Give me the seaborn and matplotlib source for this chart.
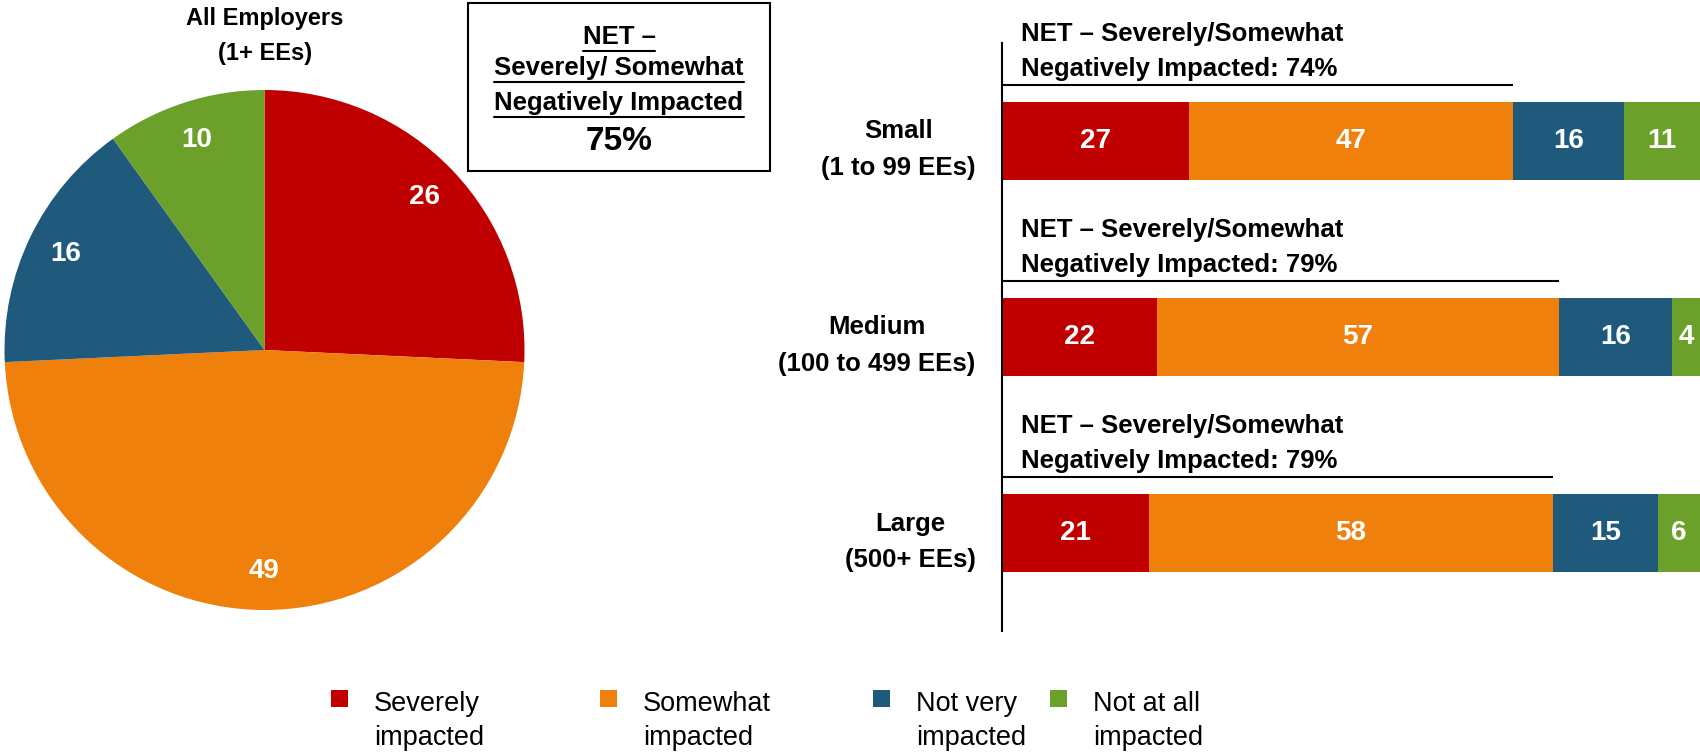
import numpy as np
import pandas as pd
import matplotlib
matplotlib.use('Agg')
import matplotlib.pyplot as plt
from matplotlib.patches import Rectangle
from matplotlib.lines import Line2D
import seaborn as sns

sns.set_theme(style='white')
plt.rcParams['font.family'] = ['Liberation Sans', 'DejaVu Sans']
plt.rcParams['text.color'] = 'black'
plt.rcParams['ytick.color'] = 'black'

# data
segments = ['Severely\nimpacted', 'Somewhat\nimpacted', 'Not very\nimpacted', 'Not at all\nimpacted']
colors = ['#C00000', '#F0800C', '#1F5A7C', '#6BA12A']
pie_values = [26, 49, 16, 10]
pie_net = 75
sizes = ['Small\n(1 to 99 EEs)', 'Medium\n(100 to 499 EEs)', 'Large\n(500+ EEs)']
severely = [27, 22, 21]
somewhat = [47, 57, 58]
not_very = [16, 16, 15]
not_at_all = [11, 4, 6]
net_values = [74, 79, 79]

W, H = 1700, 754


def fx(x):
    return x / W


def fy(y):
    return 1 - y / H


fig = plt.figure(figsize=(17, 7.54), dpi=100)

# pie: all employers
ax_pie = fig.add_axes([fx(4.5), fy(610), 520 / W, 520 / H])
wedges, _ = ax_pie.pie(pie_values, colors=colors, startangle=90, counterclock=False,
                       radius=1, wedgeprops=dict(linewidth=0))
for w, v in zip(wedges, pie_values):
    ang = np.deg2rad((w.theta1 + w.theta2) / 2)
    ax_pie.text(0.85 * np.cos(ang), 0.85 * np.sin(ang), str(v), ha='center', va='center',
                color='white', fontsize=20, fontweight='bold')
ax_pie.set_xlim(-1, 1)
ax_pie.set_ylim(-1, 1)
ax_pie.set_aspect('equal')
ax_pie.axis('off')

fig.text(fx(265), fy(36), 'All Employers\n(1+ EEs)', ha='center', va='center',
         fontsize=17, fontweight='bold', linespacing=1.65)

# NET box
fig.add_artist(Rectangle((fx(468), fy(171)), 302 / W, 168 / H, fill=False,
                         edgecolor='black', linewidth=1.5, transform=fig.transFigure))
box_lines = ['NET –', 'Severely/ Somewhat', 'Negatively Impacted']
box_y = [37, 68, 103]
box_texts = []
for s, y in zip(box_lines, box_y):
    box_texts.append(fig.text(fx(619), fy(y), s, ha='center', va='center',
                              fontsize=18.5, fontweight='bold'))
fig.text(fx(619), fy(142), f'{pie_net}%', ha='center', va='center', fontsize=24, fontweight='bold')

# stacked bars by size
ax = fig.add_axes([fx(1002), fy(631), (W - 1002) / W, 588 / H])
parts = np.array([severely, somewhat, not_very, not_at_all], dtype=float)
share = parts / parts.sum(axis=0) * 100
cum = share.cumsum(axis=0)
for k in range(3, -1, -1):
    df = pd.DataFrame({'size': sizes, 'value': cum[k]})
    sns.barplot(data=df, x='value', y='size', orient='h', color=colors[k], width=0.4,
                saturation=1, linewidth=0, ax=ax)
for i in range(len(sizes)):
    for k in range(4):
        ax.text(cum[k, i] - share[k, i] / 2, i, f'{int(parts[k, i])}', ha='center', va='center',
                color='white', fontsize=20, fontweight='bold')
    ax.text(2.7, i - 0.457, f'NET – Severely/Somewhat\nNegatively Impacted: {net_values[i]}%',
            ha='left', va='center', fontsize=18.5, fontweight='bold', linespacing=1.6)
    ax.hlines(i - 0.284, 0, cum[1, i], color='black', linewidth=1.5)

ax.set_xlim(0, 100)
ax.set_ylim(2.5, -0.5)
ax.set_xlabel('')
ax.set_ylabel('')
ax.set_xticks([])
for sp in ['top', 'right', 'bottom']:
    ax.spines[sp].set_visible(False)
ax.spines['left'].set_color('black')
ax.spines['left'].set_linewidth(1.5)
ax.tick_params(axis='y', length=0, pad=19)
for lab in ax.get_yticklabels():
    lab.set_fontsize(18.5)
    lab.set_fontweight('bold')
    lab.set_multialignment('center')
    lab.set_linespacing(1.65)

# legend
leg_x = [331, 600, 873, 1050]
for x, lab, c in zip(leg_x, segments, colors):
    fig.add_artist(Rectangle((fx(x), fy(707)), 17 / W, 17 / H, facecolor=c, edgecolor='none',
                             transform=fig.transFigure))
    fig.text(fx(x + 43), fy(721), lab, ha='left', va='center', fontsize=19.5, linespacing=1.42)

# underline the box header
fig.canvas.draw()
r = fig.canvas.get_renderer()
for t, y in zip(box_texts, box_y):
    bb = t.get_window_extent(renderer=r)
    fig.add_artist(Line2D([bb.x0 / W, bb.x1 / W], [fy(y + 14), fy(y + 14)], color='black',
                          linewidth=1.5, transform=fig.transFigure))

fig.savefig('out.png', dpi=100)
